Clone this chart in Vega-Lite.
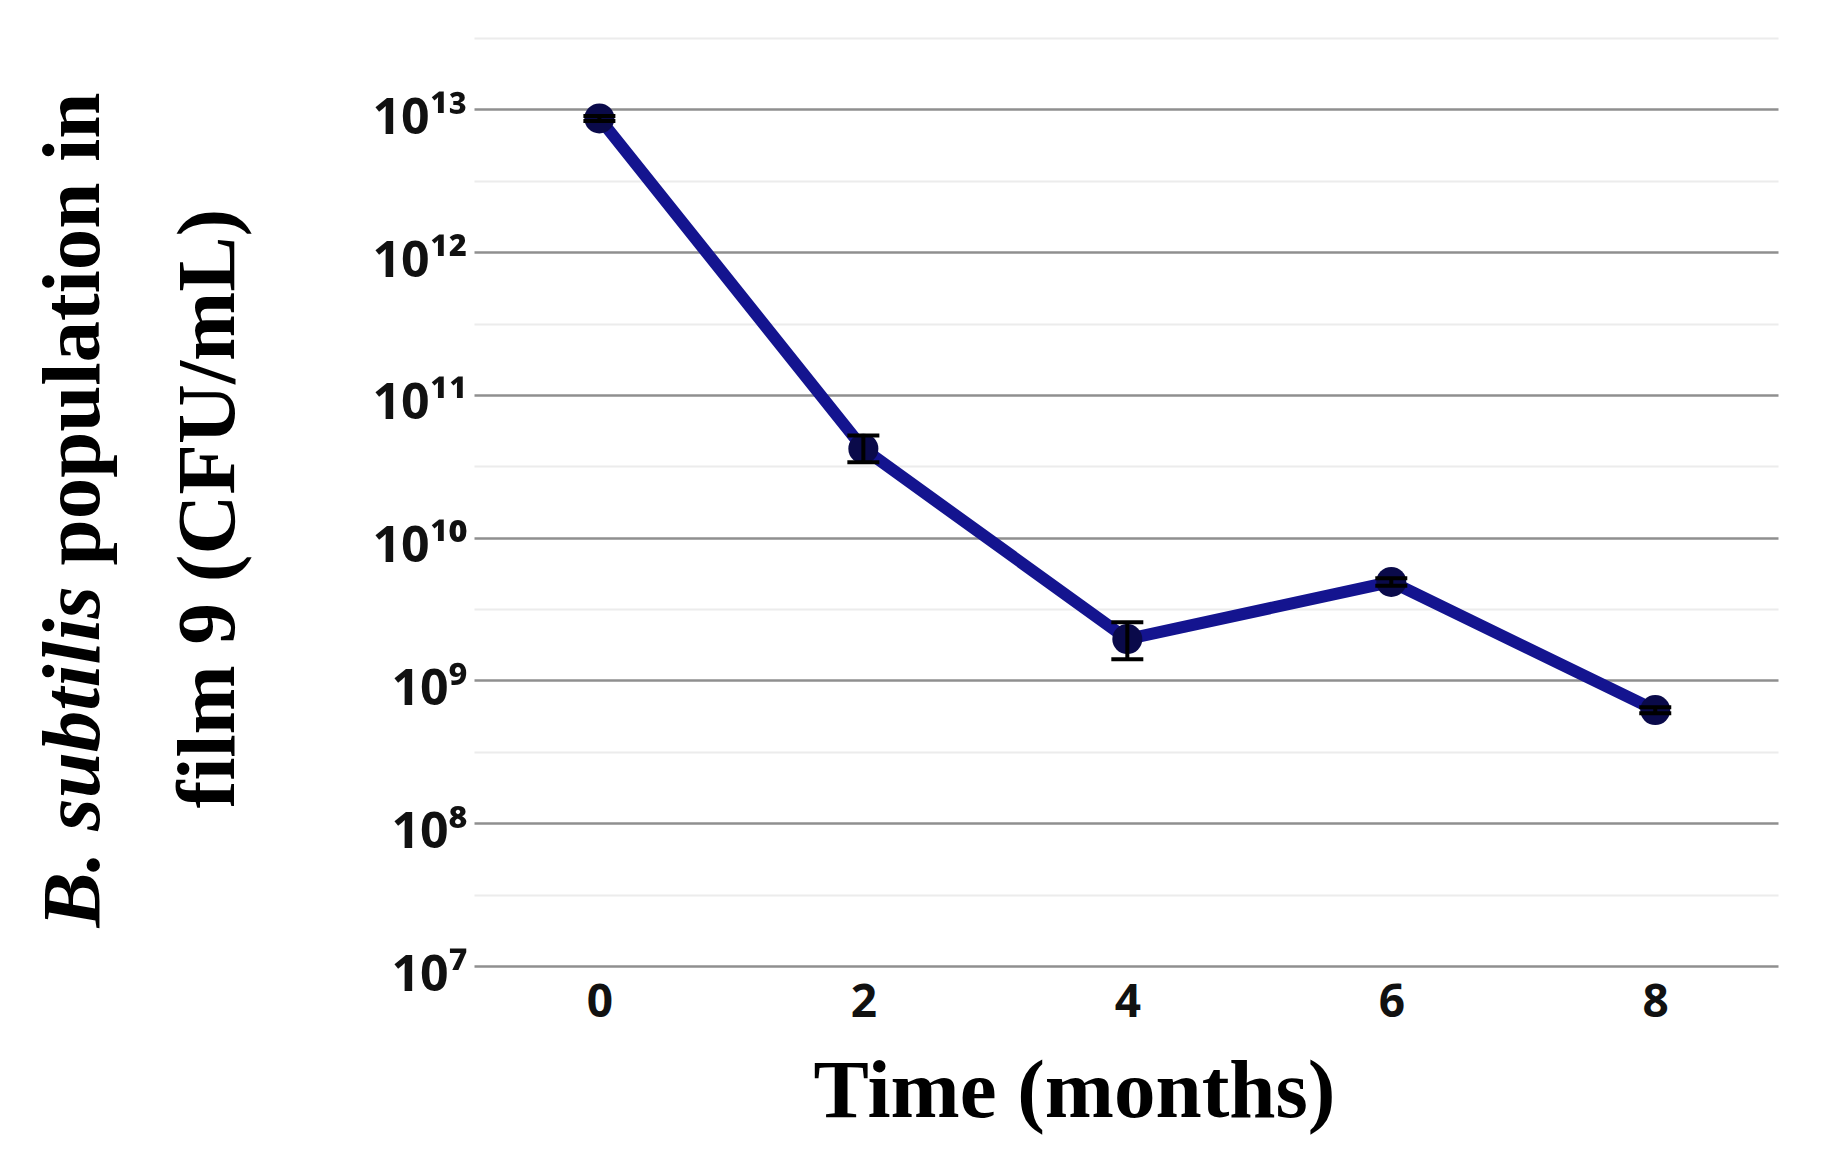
{
  "$schema": "https://vega.github.io/schema/vega-lite/v6.json",
  "autosize": {"type": "none"},
  "width": 1304,
  "height": 928,
  "padding": {"left": 474, "top": 38, "right": 49, "bottom": 204},
  "background": "white",
  "config": {"view": {"stroke": null}},
  "data": {"values": [
    {"month": 0, "cfu": 8.65e12, "lo": 8.3e12, "hi": 9.0e12},
    {"month": 2, "cfu": 4.2e10, "lo": 3.37e10, "hi": 5.2e10},
    {"month": 4, "cfu": 1.95e9, "lo": 1.41e9, "hi": 2.56e9},
    {"month": 6, "cfu": 4.9e9, "lo": 4.6e9, "hi": 5.2e9},
    {"month": 8, "cfu": 6.2e8, "lo": 5.9e8, "hi": 6.5e8}
  ]},
  "resolve": {"axis": {"x": "independent", "y": "independent"}},
  "layer": [
    {
      "mark": {"type": "line", "color": "#14148f", "strokeWidth": 12},
      "encoding": {
        "x": {"field": "month", "type": "quantitative",
          "scale": {"domain": [-0.95, 8.93], "nice": false, "zero": false},
          "axis": {"values": [0, 2, 4, 6, 8], "format": "d", "grid": false, "domain": false, "ticks": false, "tickSize": 0,
            "labelFont": "Open Sans", "labelFontWeight": "bold", "labelFontSize": 46, "labelColor": "#111",
            "labelPadding": 14,
            "title": "Time (months)", "titleFont": "Liberation Serif", "titleFontWeight": "bold", "titleFontSize": 83,
            "titleColor": "black", "titleX": 600, "titleY": 150, "titleBaseline": "alphabetic", "titleAlign": "center"}},
        "y": {"field": "cfu", "type": "quantitative",
          "scale": {"type": "log", "domain": [1e7, 3.1623e13], "nice": false},
          "axis": {"values": [1e7, 3.1623e7, 1e8, 3.1623e8, 1e9, 3.1623e9, 1e10, 3.1623e10, 1e11, 3.1623e11, 1e12, 3.1623e12, 1e13, 3.1623e13],
            "domain": false, "ticks": false, "tickSize": 0,
            "grid": true,
            "gridColor": {"condition": {"test": "abs(log(datum.value)/LN10 - round(log(datum.value)/LN10)) < 0.01", "value": "#8f8f8f"}, "value": "#ececec"},
            "gridWidth": {"condition": {"test": "abs(log(datum.value)/LN10 - round(log(datum.value)/LN10)) < 0.01", "value": 2.5}, "value": 2},
            "labelExpr": "abs(log(datum.value)/LN10 - round(log(datum.value)/LN10)) >= 0.01 ? '' : (round(log(datum.value)/LN10) == 7 ? '10⁷' : round(log(datum.value)/LN10) == 8 ? '10⁸' : round(log(datum.value)/LN10) == 9 ? '10⁹' : round(log(datum.value)/LN10) == 10 ? '10¹⁰' : round(log(datum.value)/LN10) == 11 ? '10¹¹' : round(log(datum.value)/LN10) == 12 ? '10¹²' : '10¹³')",
            "labelFont": "Open Sans", "labelFontWeight": "bold", "labelFontSize": 50, "labelColor": "#111",
            "labelPadding": 7, "labelOffset": 9, "labelBaseline": "middle",
            "title": "film 9 (CFU/mL)",
            "titleFont": "Liberation Serif", "titleFontWeight": "bold", "titleFontSize": 83, "titleColor": "black",
            "titleAngle": 270, "titleBaseline": "alphabetic", "titleAlign": "center",
            "titleX": -241, "titleY": 470}}
      }
    },
    {
      "mark": {"type": "point", "shape": "circle", "filled": true, "color": "#0a0a4a", "size": 900, "opacity": 1},
      "encoding": {
        "x": {"field": "month", "type": "quantitative", "axis": null},
        "y": {"field": "cfu", "type": "quantitative",
          "axis": {"orient": "left", "grid": false, "labels": false, "ticks": false, "domain": false,
            "title": "population in",
            "titleFont": "Liberation Serif", "titleFontWeight": "bold", "titleFontSize": 83, "titleColor": "black",
            "titleAngle": 270, "titleBaseline": "alphabetic", "titleAlign": "left",
            "titleX": -376, "titleY": 527}}
      }
    },
    {
      "mark": {"type": "rule", "color": "#000", "strokeWidth": 4},
      "encoding": {
        "x": {"field": "month", "type": "quantitative", "axis": null},
        "y": {"field": "lo", "type": "quantitative",
          "axis": {"orient": "left", "grid": false, "labels": false, "ticks": false, "domain": false,
            "title": "B. subtilis",
            "titleFont": "Liberation Serif", "titleFontWeight": "bold", "titleFontStyle": "italic", "titleFontSize": 83, "titleColor": "black",
            "titleAngle": 270, "titleBaseline": "alphabetic", "titleAlign": "left",
            "titleX": -376, "titleY": 889}},
        "y2": {"field": "hi"}
      }
    },
    {
      "mark": {"type": "tick", "color": "#000", "orient": "horizontal", "size": 32, "thickness": 4, "opacity": 1},
      "encoding": {
        "x": {"field": "month", "type": "quantitative", "axis": null},
        "y": {"field": "lo", "type": "quantitative", "axis": null}
      }
    },
    {
      "mark": {"type": "tick", "color": "#000", "orient": "horizontal", "size": 32, "thickness": 4, "opacity": 1},
      "encoding": {
        "x": {"field": "month", "type": "quantitative", "axis": null},
        "y": {"field": "hi", "type": "quantitative", "axis": null}
      }
    }
  ]
}
